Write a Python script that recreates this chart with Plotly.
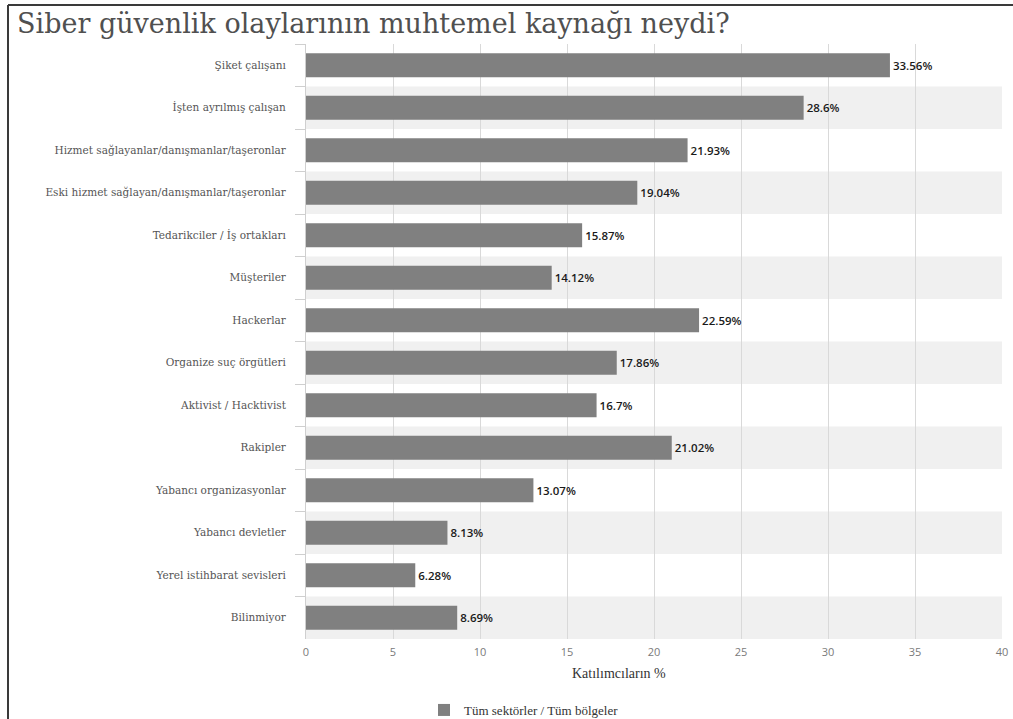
import plotly.graph_objects as go

categories = [
    "Şiket çalışanı",
    "İşten ayrılmış çalışan",
    "Hizmet sağlayanlar/danışmanlar/taşeronlar",
    "Eski hizmet sağlayan/danışmanlar/taşeronlar",
    "Tedarikciler / İş ortakları",
    "Müşteriler",
    "Hackerlar",
    "Organize suç örgütleri",
    "Aktivist / Hacktivist",
    "Rakipler",
    "Yabancı organizasyonlar",
    "Yabancı devletler",
    "Yerel istihbarat sevisleri",
    "Bilinmiyor",
]
values = [33.56, 28.6, 21.93, 19.04, 15.87, 14.12, 22.59, 17.86, 16.7, 21.02, 13.07, 8.13, 6.28, 8.69]
series_name = "Tüm sektörler / Tüm bölgeler"
x_ticks = [0, 5, 10, 15, 20, 25, 30, 35, 40]

W, H = 1013, 719
L, R, T, B = 306, 11, 44, 80
pw, ph = W - L - R, H - T - B


def px_x(X):
    return (X - L) / pw


def px_y(Y):
    return (H - B - Y) / ph


SERIF = "DejaVu Serif"
SANS = "Open Sans"

fig = go.Figure()
fig.add_trace(go.Bar(
    y=categories,
    x=values,
    orientation="h",
    name=series_name,
    marker=dict(color="#808080", line=dict(width=0)),
    text=[f"{v}%" for v in values],
    textposition="outside",
    textfont=dict(family=SANS, size=11.5, color="#1a1a1a", weight=600),
    cliponaxis=False,
    showlegend=True,
))

# alternating row shading
shapes = []
for i in range(len(categories)):
    if i % 2 == 1:
        shapes.append(dict(
            type="rect", xref="paper", yref="y", x0=0, x1=1,
            y0=i - 0.5, y1=i + 0.5, fillcolor="#f0f0f0",
            line=dict(width=0), layer="below",
        ))

# outer frame lines (top and left)
shapes.append(dict(type="line", xref="paper", yref="paper",
                   x0=px_x(8), x1=px_x(W + 5), y0=px_y(5), y1=px_y(5),
                   line=dict(color="#3a3a3a", width=2)))
shapes.append(dict(type="line", xref="paper", yref="paper",
                   x0=px_x(8), x1=px_x(8), y0=px_y(5), y1=px_y(H + 5),
                   line=dict(color="#3a3a3a", width=2)))

fig.update_layout(
    width=W, height=H,
    margin=dict(l=L, r=R, t=T, b=B, autoexpand=False),
    paper_bgcolor="white",
    plot_bgcolor="white",
    bargap=0.43,
    shapes=shapes,
    title=dict(
        text="Siber güvenlik olaylarının muhtemel kaynağı neydi?",
        font=dict(family=SERIF, size=27, color="#505050"),
        x=17 / W, xanchor="left", xref="container",
        y=1 - 24 / H, yanchor="middle", yref="container",
    ),
    xaxis=dict(
        range=[0, 40],
        tickvals=x_ticks,
        showgrid=True, gridcolor="#d9d9d9", gridwidth=1,
        zeroline=False, showline=False,
        tickfont=dict(family=SANS, size=11, color="#7a7a7a"),
        ticks="",
        ticklabelstandoff=5,
    ),
    yaxis=dict(
        autorange="reversed",
        showline=True, linecolor="#cfcfcf", linewidth=1,
        ticks="outside", ticklen=10, tickcolor="#cfcfcf", tickson="boundaries",
        ticklabelstandoff=17,
        tickfont=dict(family=SERIF, size=10.5, color="#555555"),
        showgrid=False,
    ),
    legend=dict(
        orientation="h",
        x=px_x(424), xanchor="left",
        y=px_y(695), yanchor="top",
        font=dict(family="Liberation Serif", size=13, color="#333333"),
        bgcolor="rgba(0,0,0,0)",
    ),
    annotations=[dict(
        text="Katılımcıların %",
        xref="paper", yref="paper",
        x=px_x(619), y=px_y(673),
        xanchor="center", yanchor="middle",
        showarrow=False,
        font=dict(family="Liberation Serif", size=14, color="#333333"),
    )],
)

fig.write_html("out.html")
